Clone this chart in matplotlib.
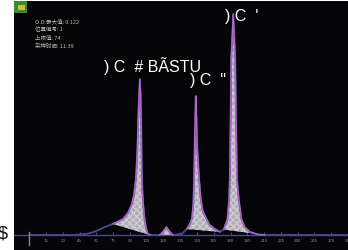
import numpy as np
import matplotlib.pyplot as plt
from matplotlib.patches import Rectangle

plt.rcParams['font.family'] = ['Liberation Sans', 'DejaVu Sans']

# chromatogram trace (time, O.D.)
time = [0, 40, 51.6, 57.9, 65.9, 74.8, 83.8, 88.2, 91.8, 93.6, 95.4, 96.7, 97.4,
        98.3, 98.9, 99.6, 100.1, 100.7, 101.6, 102.9, 104.3, 105.6, 107.9,
        116.8, 119.5, 122.6, 125.7, 128.4,
        136.4, 140.9, 143.6, 145.4, 146.7, 147.4, 148.0, 148.5, 148.9, 149.6,
        150.3, 151.9, 153.4, 155.2, 158.5, 161.4, 165.9, 170.4,
        173.9, 177.2, 178.7, 179.3, 180.0, 180.6, 182.4, 184.2, 184.9, 185.8,
        187.3, 189.7, 192.7, 197.1, 204.3, 210.5, 285]
od = [0, 0, 0.0006, 0.0017, 0.0039, 0.0061, 0.0088, 0.0121, 0.0171, 0.0221,
      0.0309, 0.0475, 0.0640, 0.0778, 0.0861, 0.0778, 0.0640, 0.0309, 0.0199,
      0.0099, 0.0044, 0.0011, 0,
      0, 0.0017, 0.0044, 0.0017, 0,
      0.0006, 0.0033, 0.0061, 0.0088, 0.0171, 0.0309, 0.0530, 0.0668, 0.0767,
      0.0640, 0.0475, 0.0309, 0.0199, 0.0132, 0.0088, 0.0055, 0.0033, 0.0017,
      0.0030, 0.0088, 0.0199, 0.0309, 0.0640, 0.0972, 0.122, 0.0972, 0.0640,
      0.0309, 0.0199, 0.0088, 0.0044, 0.0017, 0.0003, 0, 0]

# integrated peak windows (start, end)
peak_windows = [(74.8, 107.9), (116.8, 128.4), (140.9, 170.4), (173.9, 210.5)]

tick_values = list(range(15, 300, 15))

info_lines = ['O.D.最大值: 0.122', '位置编号: 1', '上限值: 74', '采样时间: 11:39']
labels = [') C  # BÃSTU', ') C  "', ") C  '"]
label_anchor_times = [66.5, 143.5, 174.8]
label_heights = [0.0938, 0.0861, 0.1214]

time = np.array(time, dtype=float)
od = np.array(od, dtype=float)

fig = plt.figure(figsize=(3.48, 2.51), dpi=100)
fig.patch.set_facecolor('white')
ax = fig.add_axes([14 / 348, 0, 334 / 348, 249 / 251])
ax.set_facecolor('#050406')
ax.set_xlim(-13.6, 284.6)
ax.set_ylim(-0.0083, 0.1292)

# shaded peak areas against a straight integration baseline
for t0, t1 in peak_windows:
    m = (time >= t0) & (time <= t1)
    ts = time[m]
    ys = od[m]
    base = np.interp(ts, [ts[0], ts[-1]], [ys[0], ys[-1]])
    ax.fill_between(ts, base, ys, facecolor='#b0acb7', edgecolor='#cecbd2',
                    hatch='xxxxx', linewidth=0, zorder=2)
    ax.plot(ts, ys, color='#b466c8', lw=1.0, zorder=3)

ax.plot(time, od, color='#4c4890', lw=1.3, zorder=2.5)
ax.plot([time[0], time[0]], [-0.0055, 0.0015], color='#b0803a', lw=1, zorder=3)

for s in ['top', 'right', 'left']:
    ax.spines[s].set_visible(False)
ax.spines['bottom'].set_position(('data', 0))
ax.spines['bottom'].set_color('#4c4890')
ax.spines['bottom'].set_linewidth(1.0)
ax.set_yticks([])
ax.set_xticks(tick_values)
ax.set_xticklabels([str(v) for v in tick_values])
ax.tick_params(axis='x', direction='in', length=2, width=0.6, colors='#5a58a0',
               labelsize=3.2, labelcolor='#8886c0', pad=2.2)

# info box at the top left
for i, line in enumerate(info_lines):
    ax.text(0.063, 0.915 - i * 0.033, line, transform=ax.transAxes,
            fontsize=4.0, color='#bcbcbc',
            family=['Noto Sans CJK SC', 'DejaVu Sans'])
ax.add_patch(Rectangle((0.0, 0.953), 0.038, 0.045, transform=ax.transAxes,
                       facecolor='#3a8a2a', edgecolor='none'))
ax.add_patch(Rectangle((0.012, 0.962), 0.02, 0.02, transform=ax.transAxes,
                       facecolor='#c8c040', edgecolor='none'))

# overlay labels
for txt, t, h in zip(labels, label_anchor_times, label_heights):
    ax.text(t, h, txt, color='white', fontsize=11.5, va='center', ha='left')

fig.text(-0.006, 0.068, '$', color='#111111', fontsize=13, va='center')

fig.savefig('out.png', dpi=100, facecolor='white')
